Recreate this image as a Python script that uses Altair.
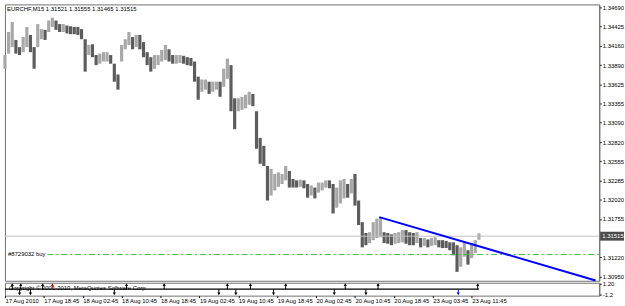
import altair as alt
import pandas as pd

# ---- data (EURCHF M15, one sample every 3 bars) ----
highs = [1.3403, 1.3435, 1.3449, 1.3424, 1.3414, 1.3428, 1.3442, 1.3431, 1.3414, 1.3446,
         1.3439, 1.3438, 1.3451, 1.3455, 1.3451, 1.3446, 1.3446, 1.3444, 1.3443, 1.3442,
         1.3442, 1.3439, 1.3425, 1.3417, 1.3418, 1.3403, 1.3405, 1.3407, 1.3407, 1.3403,
         1.3391, 1.3376, 1.3417, 1.3425, 1.3435, 1.3428, 1.3431, 1.3431, 1.3421, 1.3407,
         1.3400, 1.3403, 1.3403, 1.3410, 1.3417, 1.3411, 1.3403, 1.3403, 1.3403, 1.3402,
         1.3400, 1.3399, 1.3394, 1.3373, 1.3369, 1.3369, 1.3366, 1.3366, 1.3366, 1.3366,
         1.3384, 1.3398, 1.3389, 1.3343, 1.3343, 1.3345, 1.3348, 1.3352, 1.3349, 1.3325,
         1.3288, 1.3277, 1.3249, 1.3245, 1.3238, 1.3240, 1.3238, 1.3249, 1.3242, 1.3231,
         1.3229, 1.3230, 1.3229, 1.3224, 1.3222, 1.3219, 1.3226, 1.3226, 1.3229, 1.3229,
         1.3224, 1.3219, 1.3229, 1.3231, 1.3224, 1.3231, 1.3238, 1.3201, 1.3171, 1.3156,
         1.3157, 1.3171, 1.3176, 1.3178, 1.3157, 1.3156, 1.3154, 1.3156, 1.3157, 1.3160,
         1.3160, 1.3157, 1.3156, 1.3157, 1.3149, 1.3149, 1.3147, 1.3149, 1.3150, 1.3146,
         1.3146, 1.3145, 1.3143, 1.3143, 1.3139, 1.3136, 1.3142, 1.3132, 1.3142, 1.3146,
         1.31555]
lows = [1.3384, 1.3405, 1.3414, 1.3405, 1.3403, 1.3407, 1.3414, 1.3407, 1.3384, 1.3414,
        1.3425, 1.3424, 1.3435, 1.3442, 1.3438, 1.3435, 1.3435, 1.3433, 1.3432, 1.3432,
        1.3431, 1.3425, 1.3380, 1.3403, 1.3400, 1.3389, 1.3391, 1.3394, 1.3394, 1.3391,
        1.3366, 1.3355, 1.3394, 1.3411, 1.3417, 1.3411, 1.3414, 1.3411, 1.3400, 1.3389,
        1.3380, 1.3384, 1.3389, 1.3394, 1.3396, 1.3394, 1.3391, 1.3391, 1.3392, 1.3391,
        1.3389, 1.3388, 1.3366, 1.3341, 1.3352, 1.3355, 1.3349, 1.3352, 1.3355, 1.3345,
        1.3359, 1.3370, 1.3325, 1.3300, 1.3325, 1.3327, 1.3329, 1.3334, 1.3332, 1.3273,
        1.3252, 1.3249, 1.3201, 1.3208, 1.3215, 1.3220, 1.3224, 1.3229, 1.3219, 1.3219,
        1.3219, 1.3220, 1.3218, 1.3205, 1.3208, 1.3204, 1.3212, 1.3215, 1.3219, 1.3218,
        1.3183, 1.3191, 1.3197, 1.3204, 1.3205, 1.3211, 1.3194, 1.3167, 1.3136, 1.3139,
        1.3142, 1.3146, 1.3149, 1.3150, 1.3142, 1.3141, 1.3139, 1.3141, 1.3142, 1.3143,
        1.3141, 1.3139, 1.3139, 1.3142, 1.3136, 1.3138, 1.3136, 1.3138, 1.3139, 1.3136,
        1.3135, 1.3135, 1.3132, 1.3125, 1.3102, 1.3109, 1.3123, 1.3112, 1.3121, 1.3128,
        1.31465]
BARS_PER_SAMPLE = 3

price_ticks = [1.34690, 1.34425, 1.34160, 1.33890, 1.33625, 1.33355, 1.33090,
               1.32820, 1.32555, 1.32285, 1.32020, 1.31755, 1.31220, 1.30950]
time_tick_bars = [0, 32, 64, 96, 128, 160, 192, 224, 256, 288, 320, 352, 384]
time_tick_labels = ["17 Aug 2010", "17 Aug 18:45", "18 Aug 02:45", "18 Aug 10:45",
                    "18 Aug 18:45", "19 Aug 02:45", "19 Aug 10:45", "19 Aug 18:45",
                    "20 Aug 02:45", "20 Aug 10:45", "20 Aug 18:45", "23 Aug 03:45",
                    "23 Aug 11:45"]

bid_price = 1.31515
header = "EURCHF,M15  1.31521 1.31555 1.31465 1.31515"
order_price = 1.3126
order_label = "#8729032 buy"
order_start_bar = 35
trend_bars = [308, 486]
trend_prices = [1.3178, 1.3090]

spike_up_bars = [6, 13, 31, 39, 100, 131, 183, 202, 231, 280, 307, 389]
spike_down_bars = [12, 21, 90, 176, 190, 221, 271, 297, 373]
spike_colors = {39: "#e00000", 373: "#0000ff"}
sub_labels = ["1.20", "-1.2"]
copyright_text = "Copyright © 2001-2010, MetaQuotes Software Corp."

X_DOMAIN = [0, 489]
Y_DOMAIN = [1.30896, 1.34733]
W, H_MAIN, H_SUB = 600, 279, 13
FONT = "Liberation Sans"

# ---- tables ----
rows = []
prev_mid = None
for i, (h, l) in enumerate(zip(highs, lows)):
    mid = (h + l) / 2
    d = "up" if prev_mid is None or mid >= prev_mid else "down"
    prev_mid = mid
    rows.append({"bar": i * BARS_PER_SAMPLE, "high": h, "low": l, "dir": d})
bars_df = pd.DataFrame(rows)
last_bar = (len(highs) - 1) * BARS_PER_SAMPLE

xs = alt.Scale(domain=X_DOMAIN, nice=False, zero=False)
ys = alt.Scale(domain=Y_DOMAIN, nice=False, zero=False)

Y_AXIS = alt.Axis(orient="right", values=price_ticks, format=".5f",
                  labelFontSize=6, labelFont=FONT, tickSize=2, labelPadding=1,
                  grid=False, title=None, domainColor="#707070",
                  tickColor="#000000", labelColor="#000000", labelOverlap=False,
                  labelBound=False)


def Y(field):
    return alt.Y(field, scale=ys, axis=Y_AXIS)


def X(field):
    return alt.X(field, scale=xs, axis=None)


bid = alt.Chart(pd.DataFrame({"b": [X_DOMAIN[0]], "b2": [X_DOMAIN[1]], "p": [bid_price]})).mark_rule(
    color="#c0c0c0", strokeWidth=1).encode(x=X("b:Q"), x2="b2:Q", y=Y("p:Q"))

order = alt.Chart(pd.DataFrame({"b": [order_start_bar], "b2": [X_DOMAIN[1]], "p": [order_price]})).mark_rule(
    color="#3cbf3c", strokeWidth=1, strokeDash=[6, 3, 2, 3]).encode(
    x=X("b:Q"), x2="b2:Q", y=Y("p:Q"))

order_txt = alt.Chart(pd.DataFrame({"p": [order_price], "t": [order_label]})).mark_text(
    align="left", baseline="bottom", fontSize=6, font=FONT, color="#000000", dy=2).encode(
    x=alt.value(3), y=Y("p:Q"), text="t:N")

candles = alt.Chart(bars_df).mark_rule(strokeWidth=3.2).encode(
    x=X("bar:Q"), y=Y("low:Q"), y2="high:Q",
    color=alt.Color("dir:N", scale=alt.Scale(domain=["up", "down"],
                                             range=["#a8a8a8", "#5c5c5c"]), legend=None))

trend = alt.Chart(pd.DataFrame({"b": trend_bars, "p": trend_prices})).mark_line(
    color="#0000ff", strokeWidth=2).encode(x=X("b:Q"), y=Y("p:Q"))

head = alt.Chart(pd.DataFrame({"t": [header]})).mark_text(
    align="left", baseline="middle", fontSize=6, font=FONT, color="#000000").encode(
    x=alt.value(2), y=alt.value(5), text="t:N")

box = alt.Chart(pd.DataFrame({"p": [bid_price]})).mark_tick(
    orient="horizontal", thickness=9, size=24, color="#000000").encode(
    x=alt.value(W + 13), y=Y("p:Q"))
box_txt = alt.Chart(pd.DataFrame({"p": [bid_price]})).mark_text(
    align="left", baseline="middle", fontSize=6, font=FONT, color="#ffffff").encode(
    x=alt.value(W + 3), y=Y("p:Q"), text=alt.Text("p:Q", format=".5f"))

main = alt.layer(candles, bid, order, trend, order_txt, head, box, box_txt).properties(
    width=W, height=H_MAIN)

# ---- sub window ----
up_df = pd.DataFrame({"bar": spike_up_bars, "v": [1.0] * len(spike_up_bars),
                      "c": [spike_colors.get(b, "#000000") for b in spike_up_bars]})
dn_df = pd.DataFrame({"bar": spike_down_bars, "v": [-1.0] * len(spike_down_bars),
                      "c": [spike_colors.get(b, "#000000") for b in spike_down_bars]})
up_df["z"] = 0.0
dn_df["z"] = 0.0
sy = alt.Scale(domain=[-1.4, 1.4], nice=False, zero=False)
sxs = alt.Scale(domain=X_DOMAIN, nice=False, zero=False)

expr = "''"
for b, s in reversed(list(zip(time_tick_bars, time_tick_labels))):
    expr = "(datum.value == %d ? '%s' : %s)" % (b, s, expr)

SX_AXIS = alt.Axis(values=time_tick_bars, labelExpr=expr,
                   labelAlign="left", labelFontSize=6, labelFont=FONT, tickSize=2,
                   labelPadding=0, grid=False, title=None, domain=False,
                   tickColor="#000000", labelColor="#000000", labelOverlap=False,
                   labelFlush=False, labelBound=False)
SY_AXIS = alt.Axis(orient="right", values=[1.2, -1.2],
                   labelExpr="datum.value > 0 ? '%s' : '%s'" % (sub_labels[0], sub_labels[1]),
                   labelFontSize=6, labelFont=FONT, tickSize=2, labelPadding=1,
                   grid=False, title=None, domainColor="#707070", labelOverlap=False,
                   tickColor="#000000", labelColor="#000000", labelBound=False)


def SX(field):
    return alt.X(field, scale=sxs, axis=SX_AXIS)


def SY(field):
    return alt.Y(field, scale=sy, axis=SY_AXIS)


base = alt.Chart(pd.DataFrame({"b": [0], "b2": [last_bar], "z": [0.0]})).mark_rule(
    color="#000000", strokeWidth=1.2).encode(x=SX("b:Q"), x2="b2:Q", y=SY("z:Q"))


def spikes(df, shape):
    r = alt.Chart(df).mark_rule(strokeWidth=1).encode(
        x=SX("bar:Q"), y=SY("z:Q"), y2="v:Q", color=alt.Color("c:N", scale=None))
    t = alt.Chart(df).mark_point(filled=True, size=10, opacity=1, shape=shape).encode(
        x=SX("bar:Q"), y=SY("v:Q"), color=alt.Color("c:N", scale=None))
    return [r, t]


ctext = alt.Chart(pd.DataFrame({"t": [copyright_text]})).mark_text(
    align="left", baseline="middle", fontSize=6, font=FONT, color="#000000").encode(
    x=alt.value(4), y=alt.value(5), text="t:N")

sub = alt.layer(base, *spikes(up_df, "triangle-up"), *spikes(dn_df, "triangle-down"),
                ctext).properties(width=W, height=H_SUB)

chart = alt.vconcat(main, sub, spacing=2, bounds="flush").properties(
    padding={"left": 2, "top": 2, "right": 0, "bottom": 0},
    background="#ffffff"
).configure_view(stroke="#707070", strokeWidth=1)

chart.save("out.html", embed_options={"renderer": "svg", "actions": False})
